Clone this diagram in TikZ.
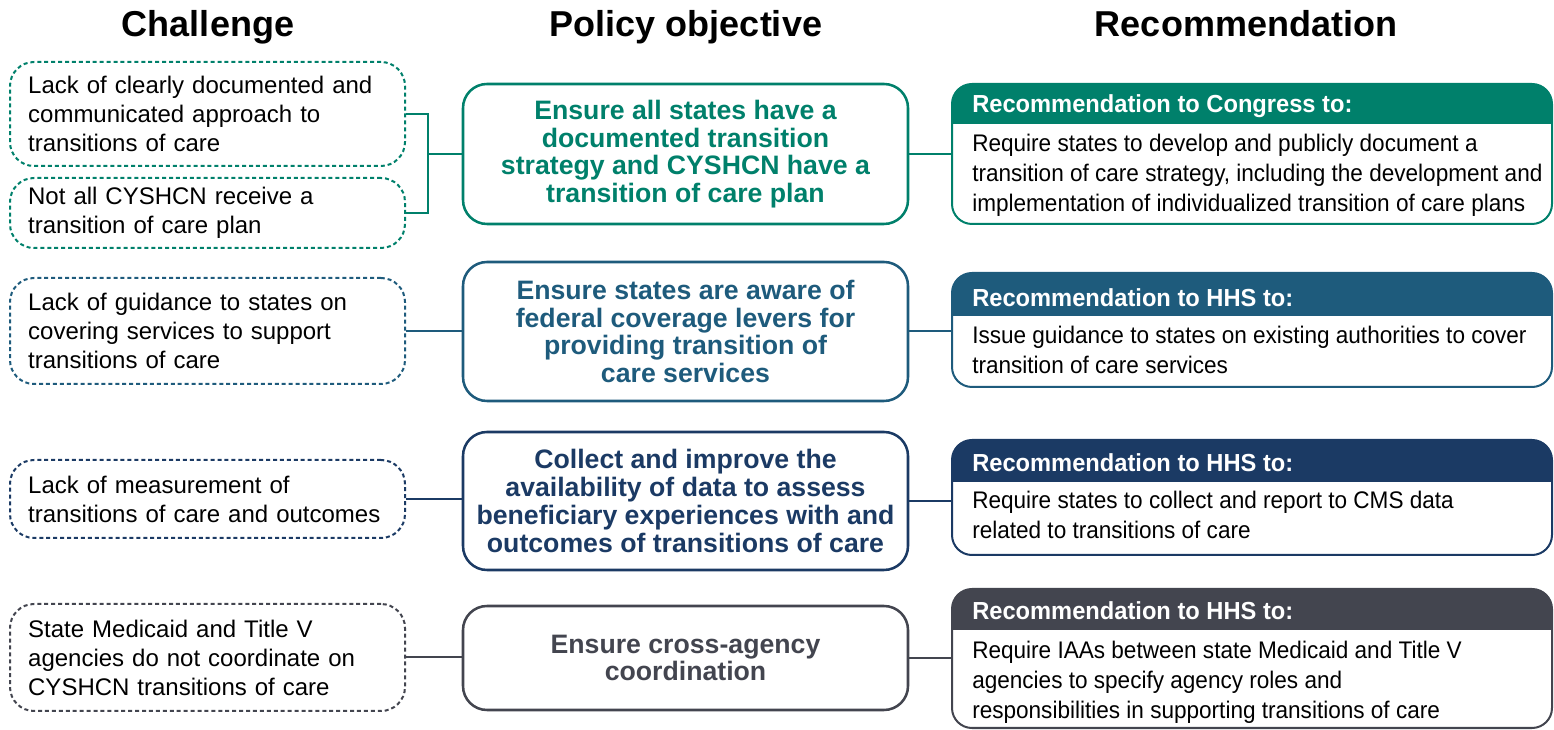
\documentclass[tikz,border=0pt]{standalone}
\usepackage{fontspec}
\setmainfont{Liberation Sans}
\newfontfamily\narrowfont{Liberation Sans}[FakeStretch=0.94]
\newfontfamily\headfont{Liberation Sans}[FakeStretch=0.96]
\usetikzlibrary{calc}
\definecolor{cg}{HTML}{00806B}
\definecolor{cb}{HTML}{1E5B7C}
\definecolor{cn}{HTML}{1B3A64}
\definecolor{cy}{HTML}{43454F}
\tikzset{
  chal/.style={draw=#1, dash pattern=on 3pt off 2.2pt, line width=1.5pt,
    rounded corners=18pt, minimum width=296.25pt, text width=269pt,
    inner xsep=13.5pt, inner ysep=0pt, align=left, text=black,
    font=\fontsize{18}{21.75}\selectfont},
  pol/.style={draw=#1, line width=1.9pt, rounded corners=18pt,
    minimum width=333.75pt, align=center, text=#1,
    font=\bfseries\fontsize{20}{20.8}\selectfont},
  colhead/.style={anchor=base, font=\bfseries\fontsize{27}{30}\selectfont, text=black},
  recframe/.style={minimum width=450pt, inner sep=0pt, outer sep=0pt},
  rechead/.style={inner sep=0pt, text=white, anchor=west,
    font=\headfont\bfseries\fontsize{18.5}{22}\selectfont},
  recbody/.style={inner sep=0pt, text=black, anchor=west, align=left,
    font=\narrowfont\fontsize{18}{22.5}\selectfont},
  link/.style={draw=#1, line width=1.5pt},
}
% #1 name, #2 colour, #3 centre y, #4 height, #5 header height,
% #6 header y, #7 header text, #8 body y, #9 body text
\newcommand\recbox[9]{%
  \node[recframe, minimum height={#4*0.75pt}] (#1) at (1252,#3) {};
  \begin{scope}
    \clip[rounded corners=15pt] (#1.north west) rectangle (#1.south east);
    \fill[#2] (#1.north west) rectangle ([yshift={-#5*0.75pt}]#1.north east);
  \end{scope}
  \draw[#2, line width=1.5pt, rounded corners=15pt] (#1.north west) rectangle (#1.south east);
  \node[rechead] (#1h) at (972,#6) {#7};
  \node[recbody] (#1b) at (972,#8) {#9};
}
\begin{document}
\begin{tikzpicture}[x=0.75pt,y=-0.75pt]
\useasboundingbox (0,0) rectangle (1554,730);

% column headings
\node[colhead] (h1) at (208,37) {Challenge};
\node[colhead] (h2) at (686,37) {Policy objective};
\node[colhead] (h3) at (1246,37) {Recommendation};

% challenges
\node[chal=cg, minimum height=78pt] (c1) at (207.5,114)
  {Lack of clearly documented and\\communicated approach to\\transitions of care};
\node[chal=cg, minimum height=52.5pt] (c2) at (207.5,213)
  {Not all CYSHCN receive a\\transition of care plan};
\node[chal=cb, minimum height=79.5pt] (c3) at (207.5,331)
  {Lack of guidance to states on\\covering services to support\\transitions of care};
\node[chal=cn, minimum height=58.5pt] (c4) at (207.5,499)
  {Lack of measurement of\\transitions of care and outcomes};
\node[chal=cy, minimum height=80.25pt] (c5) at (207.5,657.5)
  {State Medicaid and Title V\\agencies do not coordinate on\\CYSHCN transitions of care};

% policy objectives
\node[pol=cg, minimum height=105pt] (p1) at (685.5,154)
  {Ensure all states have a\\documented transition\\strategy and CYSHCN have a\\transition of care plan};
\node[pol=cb, minimum height=104.25pt] (p2) at (685.5,331.5)
  {Ensure states are aware of\\federal coverage levers for\\providing transition of\\care services};
\node[pol=cn, minimum height=103.5pt] (p3) at (685.5,501)
  {Collect and improve the\\availability of data to assess\\beneficiary experiences with and\\outcomes of transitions of care};
\node[pol=cy, minimum height=78pt] (p4) at (685.5,658)
  {Ensure cross-agency\\coordination};

% recommendations
\recbox{r1}{cg}{154}{140}{40}{106}{Recommendation to Congress to:}{175}
  {Require states to develop and publicly document a\\transition of care strategy, including the development and\\implementation of individualized transition of care plans}
\recbox{r2}{cb}{330}{114}{43}{298}{Recommendation to HHS to:}{350}
  {Issue guidance to states on existing authorities to cover\\transition of care services}
\recbox{r3}{cn}{497.5}{115}{42}{463}{Recommendation to HHS to:}{515}
  {Require states to collect and report to CMS data\\related to transitions of care}
\recbox{r4}{cy}{658.5}{139}{41}{611}{Recommendation to HHS to:}{682}
  {Require IAAs between state Medicaid and Title V\\agencies to specify agency roles and\\responsibilities in supporting transitions of care}

% connectors
\coordinate (br) at (428,154);
\draw[link=cg] (c1.east) -| (br) |- (c2.east);
\draw[link=cg] (br) -- (br -| p1.west);
\draw[link=cg] (p1.east) -- (p1.east -| r1.west);
\draw[link=cb] (c3.east) -- (c3.east -| p2.west);
\draw[link=cb] (p2.east) -- (p2.east -| r2.west);
\draw[link=cn] (c4.east) -- (c4.east -| p3.west);
\draw[link=cn] (p3.east) -- (p3.east -| r3.west);
\draw[link=cy] (c5.east) -- (c5.east -| p4.west);
\draw[link=cy] (p4.east) -- (p4.east -| r4.west);
\end{tikzpicture}
\end{document}
